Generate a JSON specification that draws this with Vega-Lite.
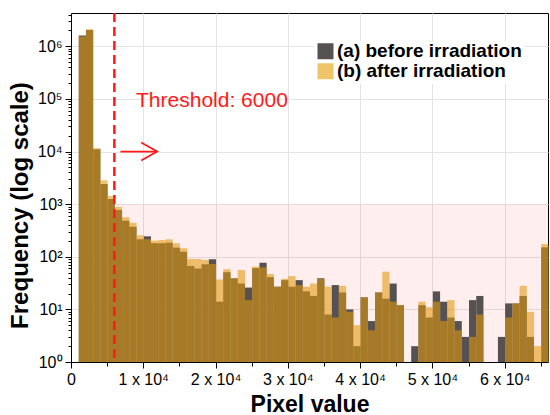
{
  "$schema": "https://vega.github.io/schema/vega-lite/v6.json",
  "width": 477,
  "height": 349,
  "autosize": {"type": "none"},
  "padding": {"left": 71, "top": 13, "right": 2, "bottom": 53},
  "background": "white",
  "config": {
    "font": "Liberation Sans",
    "view": {"stroke": "#000000", "strokeWidth": 1},
    "axis": {
      "domainColor": "#000000",
      "tickColor": "#000000",
      "labelColor": "#000000",
      "titleColor": "#000000",
      "gridColor": "#e4e4e4",
      "labelFont": "Liberation Sans",
      "titleFont": "Liberation Sans"
    }
  },
  "datasets": {
    "hist": [
      {"start": 1000, "series": "(a) before irradiation", "count": 1600000},
      {"start": 2000, "series": "(a) before irradiation", "count": 2050000},
      {"start": 3000, "series": "(a) before irradiation", "count": 11000},
      {"start": 4000, "series": "(a) before irradiation", "count": 2420},
      {"start": 5000, "series": "(a) before irradiation", "count": 1256},
      {"start": 6000, "series": "(a) before irradiation", "count": 776},
      {"start": 7000, "series": "(a) before irradiation", "count": 486},
      {"start": 8000, "series": "(a) before irradiation", "count": 373},
      {"start": 9000, "series": "(a) before irradiation", "count": 215},
      {"start": 10000, "series": "(a) before irradiation", "count": 245},
      {"start": 11000, "series": "(a) before irradiation", "count": 181},
      {"start": 12000, "series": "(a) before irradiation", "count": 181},
      {"start": 13000, "series": "(a) before irradiation", "count": 185},
      {"start": 14000, "series": "(a) before irradiation", "count": 149},
      {"start": 15000, "series": "(a) before irradiation", "count": 125},
      {"start": 16000, "series": "(a) before irradiation", "count": 67},
      {"start": 17000, "series": "(a) before irradiation", "count": 60},
      {"start": 18000, "series": "(a) before irradiation", "count": 72},
      {"start": 19000, "series": "(a) before irradiation", "count": 90},
      {"start": 20000, "series": "(a) before irradiation", "count": 14},
      {"start": 21000, "series": "(a) before irradiation", "count": 51},
      {"start": 22000, "series": "(a) before irradiation", "count": 39},
      {"start": 23000, "series": "(a) before irradiation", "count": 31},
      {"start": 24000, "series": "(a) before irradiation", "count": 26},
      {"start": 25000, "series": "(a) before irradiation", "count": 61},
      {"start": 26000, "series": "(a) before irradiation", "count": 77},
      {"start": 27000, "series": "(a) before irradiation", "count": 41},
      {"start": 28000, "series": "(a) before irradiation", "count": 27},
      {"start": 29000, "series": "(a) before irradiation", "count": 36},
      {"start": 30000, "series": "(a) before irradiation", "count": 27},
      {"start": 31000, "series": "(a) before irradiation", "count": 36},
      {"start": 32000, "series": "(a) before irradiation", "count": 22},
      {"start": 33000, "series": "(a) before irradiation", "count": 18},
      {"start": 34000, "series": "(a) before irradiation", "count": 39},
      {"start": 35000, "series": "(a) before irradiation", "count": 8},
      {"start": 36000, "series": "(a) before irradiation", "count": 29},
      {"start": 37000, "series": "(a) before irradiation", "count": 21},
      {"start": 38000, "series": "(a) before irradiation", "count": 10},
      {"start": 39000, "series": "(a) before irradiation", "count": 2},
      {"start": 40000, "series": "(a) before irradiation", "count": 17},
      {"start": 41000, "series": "(a) before irradiation", "count": 6},
      {"start": 42000, "series": "(a) before irradiation", "count": 21},
      {"start": 43000, "series": "(a) before irradiation", "count": 16},
      {"start": 44000, "series": "(a) before irradiation", "count": 31},
      {"start": 45000, "series": "(a) before irradiation", "count": 12},
      {"start": 47000, "series": "(a) before irradiation", "count": 2},
      {"start": 48000, "series": "(a) before irradiation", "count": 12},
      {"start": 49000, "series": "(a) before irradiation", "count": 7},
      {"start": 50000, "series": "(a) before irradiation", "count": 22},
      {"start": 51000, "series": "(a) before irradiation", "count": 14},
      {"start": 52000, "series": "(a) before irradiation", "count": 7},
      {"start": 53000, "series": "(a) before irradiation", "count": 6},
      {"start": 54000, "series": "(a) before irradiation", "count": 3},
      {"start": 55000, "series": "(a) before irradiation", "count": 15},
      {"start": 56000, "series": "(a) before irradiation", "count": 18},
      {"start": 59000, "series": "(a) before irradiation", "count": 3},
      {"start": 60000, "series": "(a) before irradiation", "count": 13},
      {"start": 61000, "series": "(a) before irradiation", "count": 13},
      {"start": 62000, "series": "(a) before irradiation", "count": 18},
      {"start": 63000, "series": "(a) before irradiation", "count": 3},
      {"start": 65000, "series": "(a) before irradiation", "count": 151},
      {"start": 1000, "series": "(b) after irradiation", "count": 1530000},
      {"start": 2000, "series": "(b) after irradiation", "count": 2110000},
      {"start": 3000, "series": "(b) after irradiation", "count": 11500},
      {"start": 4000, "series": "(b) after irradiation", "count": 2850},
      {"start": 5000, "series": "(b) after irradiation", "count": 1430},
      {"start": 6000, "series": "(b) after irradiation", "count": 885},
      {"start": 7000, "series": "(b) after irradiation", "count": 564},
      {"start": 8000, "series": "(b) after irradiation", "count": 445},
      {"start": 9000, "series": "(b) after irradiation", "count": 256},
      {"start": 10000, "series": "(b) after irradiation", "count": 215},
      {"start": 11000, "series": "(b) after irradiation", "count": 202},
      {"start": 12000, "series": "(b) after irradiation", "count": 208},
      {"start": 13000, "series": "(b) after irradiation", "count": 215},
      {"start": 14000, "series": "(b) after irradiation", "count": 181},
      {"start": 15000, "series": "(b) after irradiation", "count": 145},
      {"start": 16000, "series": "(b) after irradiation", "count": 91},
      {"start": 17000, "series": "(b) after irradiation", "count": 91},
      {"start": 18000, "series": "(b) after irradiation", "count": 87},
      {"start": 19000, "series": "(b) after irradiation", "count": 73},
      {"start": 20000, "series": "(b) after irradiation", "count": 37},
      {"start": 21000, "series": "(b) after irradiation", "count": 58},
      {"start": 22000, "series": "(b) after irradiation", "count": 39},
      {"start": 23000, "series": "(b) after irradiation", "count": 56},
      {"start": 24000, "series": "(b) after irradiation", "count": 15},
      {"start": 25000, "series": "(b) after irradiation", "count": 65},
      {"start": 26000, "series": "(b) after irradiation", "count": 63},
      {"start": 27000, "series": "(b) after irradiation", "count": 47},
      {"start": 28000, "series": "(b) after irradiation", "count": 27},
      {"start": 29000, "series": "(b) after irradiation", "count": 38},
      {"start": 30000, "series": "(b) after irradiation", "count": 43},
      {"start": 31000, "series": "(b) after irradiation", "count": 29},
      {"start": 32000, "series": "(b) after irradiation", "count": 27},
      {"start": 33000, "series": "(b) after irradiation", "count": 31},
      {"start": 34000, "series": "(b) after irradiation", "count": 38},
      {"start": 35000, "series": "(b) after irradiation", "count": 27},
      {"start": 36000, "series": "(b) after irradiation", "count": 7},
      {"start": 37000, "series": "(b) after irradiation", "count": 28},
      {"start": 38000, "series": "(b) after irradiation", "count": 9},
      {"start": 39000, "series": "(b) after irradiation", "count": 5},
      {"start": 40000, "series": "(b) after irradiation", "count": 17},
      {"start": 41000, "series": "(b) after irradiation", "count": 4},
      {"start": 42000, "series": "(b) after irradiation", "count": 21},
      {"start": 43000, "series": "(b) after irradiation", "count": 52},
      {"start": 44000, "series": "(b) after irradiation", "count": 14},
      {"start": 45000, "series": "(b) after irradiation", "count": 12},
      {"start": 48000, "series": "(b) after irradiation", "count": 14},
      {"start": 49000, "series": "(b) after irradiation", "count": 11},
      {"start": 50000, "series": "(b) after irradiation", "count": 14},
      {"start": 51000, "series": "(b) after irradiation", "count": 6},
      {"start": 52000, "series": "(b) after irradiation", "count": 15},
      {"start": 53000, "series": "(b) after irradiation", "count": 4},
      {"start": 55000, "series": "(b) after irradiation", "count": 3},
      {"start": 56000, "series": "(b) after irradiation", "count": 8},
      {"start": 60000, "series": "(b) after irradiation", "count": 7},
      {"start": 61000, "series": "(b) after irradiation", "count": 13},
      {"start": 62000, "series": "(b) after irradiation", "count": 28},
      {"start": 63000, "series": "(b) after irradiation", "count": 9},
      {"start": 64000, "series": "(b) after irradiation", "count": 2},
      {"start": 65000, "series": "(b) after irradiation", "count": 175}
    ],
    "region": [{"from": 6000, "to": 66000, "low": 1, "high": 1000}],
    "threshold": [{"value": 6000, "label": "Threshold: 6000", "labelX": 9000, "labelY": 70000}],
    "arrow": [
      {"part": "shaft", "step": 1, "px": 6850, "py": 10000},
      {"part": "shaft", "step": 2, "px": 11920, "py": 10000},
      {"part": "head", "step": 1, "px": 9710, "py": 14830},
      {"part": "head", "step": 2, "px": 11920, "py": 10000},
      {"part": "head", "step": 3, "px": 9710, "py": 6745}
    ]
  },
  "layer": [
    {
      "data": {"name": "region"},
      "mark": {"type": "rect", "color": "#ff0000", "opacity": 0.065},
      "encoding": {
        "x": {
          "field": "from",
          "type": "quantitative",
          "scale": {"domain": [0, 66000], "nice": false, "zero": false},
          "axis": {
            "title": "Pixel value",
            "titleFontSize": 23,
            "titleFontWeight": "bold",
            "titlePadding": 6,
            "values": [0, 5000, 10000, 15000, 20000, 25000, 30000, 35000, 40000, 45000, 50000, 55000, 60000, 65000],
            "labelExpr": "datum.value === 0 ? '0' : (datum.value % 10000 === 0 ? (datum.value / 10000) + ' x 10⁴' : '')",
            "labelFontSize": 16,
            "labelPadding": 3,
            "labelFlush": false,
            "labelOverlap": false,
            "grid": true,
            "gridOpacity": {"condition": {"test": "datum.value % 10000 === 0", "value": 1}, "value": 0},
            "tickSize": {"condition": {"test": "datum.value % 10000 === 0", "value": 6}, "value": 4}
          }
        },
        "x2": {"field": "to"},
        "y": {
          "field": "low",
          "type": "quantitative",
          "scale": {"type": "log", "domain": [1, 4300000], "nice": false},
          "axis": {
            "title": "Frequency (log scale)",
            "titleFontSize": 24,
            "titleFontWeight": "bold",
            "titlePadding": 5,
            "titleY": 192,
            "values": [1, 2, 3, 4, 5, 6, 7, 8, 9, 10, 20, 30, 40, 50, 60, 70, 80, 90, 100, 200, 300, 400, 500, 600, 700, 800, 900, 1000, 2000, 3000, 4000, 5000, 6000, 7000, 8000, 9000, 10000, 20000, 30000, 40000, 50000, 60000, 70000, 80000, 90000, 100000, 200000, 300000, 400000, 500000, 600000, 700000, 800000, 900000, 1000000, 2000000, 3000000, 4000000],
            "labelExpr": "abs(log(datum.value) / LN10 - round(log(datum.value) / LN10)) < 0.001 ? '10' + ['⁰', '¹', '²', '³', '⁴', '⁵', '⁶'][round(log(datum.value) / LN10)] : ''",
            "labelFontSize": 16,
            "labelPadding": 3,
            "labelOverlap": false,
            "labelFlush": false,
            "grid": true,
            "gridOpacity": {"condition": {"test": "abs(log(datum.value) / LN10 - round(log(datum.value) / LN10)) < 0.001", "value": 1}, "value": 0},
            "tickSize": {"condition": {"test": "abs(log(datum.value) / LN10 - round(log(datum.value) / LN10)) < 0.001", "value": 6}, "value": 3}
          }
        },
        "y2": {"field": "high"}
      }
    },
    {
      "data": {"name": "hist"},
      "transform": [{"filter": "datum.series === '(a) before irradiation'"}],
      "mark": {"type": "bar", "strokeWidth": 0, "binSpacing": 0},
      "encoding": {
        "x": {"field": "start", "type": "quantitative", "bin": {"binned": true, "step": 1000}},
        "y": {"field": "count", "type": "quantitative"},
        "y2": {"datum": 1},
        "color": {
          "field": "series",
          "type": "nominal",
          "scale": {"domain": ["(a) before irradiation", "(b) after irradiation"], "range": ["#575252", "#f0c468"]},
          "legend": {
            "orient": "none",
            "legendX": 243,
            "legendY": 28,
            "title": null,
            "symbolType": "square",
            "symbolSize": 256,
            "symbolStrokeWidth": 0,
            "symbolOpacity": 1,
            "labelFont": "Liberation Sans",
            "labelFontSize": 19,
            "labelFontWeight": "bold",
            "labelColor": "#000000",
            "labelLimit": 400,
            "labelOffset": 2,
            "rowPadding": 0,
            "clipHeight": 16.5,
            "fillColor": "#ffffff",
            "padding": 2
          }
        }
      }
    },
    {
      "data": {"name": "hist"},
      "transform": [{"filter": "datum.series === '(b) after irradiation'"}],
      "mark": {"type": "bar", "color": "#e2980b", "opacity": 0.58, "strokeWidth": 0, "binSpacing": 0},
      "encoding": {
        "x": {"field": "start", "type": "quantitative", "bin": {"binned": true, "step": 1000}},
        "y": {"field": "count", "type": "quantitative"},
        "y2": {"datum": 1}
      }
    },
    {
      "data": {"name": "threshold"},
      "mark": {"type": "rule", "color": "#ff1a1a", "strokeWidth": 2.5, "strokeDash": [9, 5]},
      "encoding": {
        "x": {"field": "value", "type": "quantitative"}
      }
    },
    {
      "data": {"name": "threshold"},
      "mark": {"type": "text", "color": "#ff1a1a", "fontSize": 21, "align": "left", "baseline": "alphabetic", "font": "Liberation Sans"},
      "encoding": {
        "x": {"field": "labelX", "type": "quantitative"},
        "y": {"field": "labelY", "type": "quantitative"},
        "text": {"field": "label"}
      }
    },
    {
      "data": {"name": "arrow"},
      "mark": {"type": "line", "color": "#ff1a1a", "strokeWidth": 1.8},
      "encoding": {
        "x": {"field": "px", "type": "quantitative"},
        "y": {"field": "py", "type": "quantitative"},
        "detail": {"field": "part"},
        "order": {"field": "step"}
      }
    }
  ]
}
